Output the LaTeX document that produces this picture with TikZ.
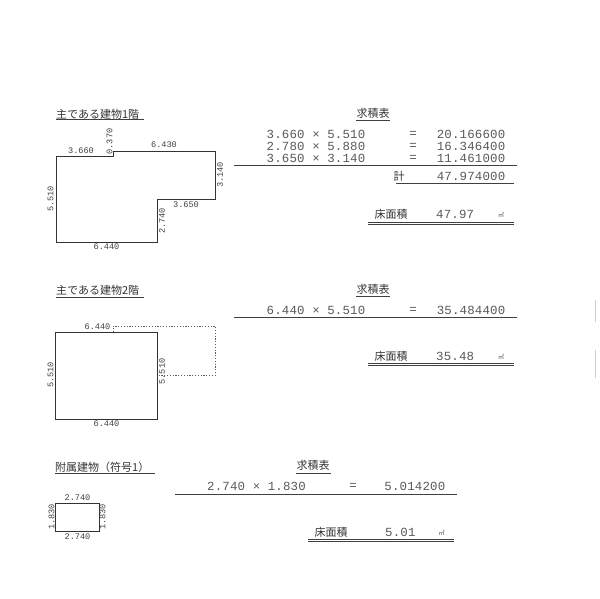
\documentclass[tikz,border=0pt]{standalone}
\usepackage{fontspec}
\usetikzlibrary{positioning}
\newfontfamily\cjkfont{Noto Sans CJK JP}
\newfontfamily\calcfont[LetterSpace=1.5]{Liberation Mono}
\newfontfamily\dimfont{Liberation Mono}
\tikzset{
  title/.style={inner sep=0pt,anchor=west,text=black!80,font=\cjkfont\fontsize{11}{11}\selectfont},
  head/.style={inner sep=0pt,text=black!80,font=\cjkfont\fontsize{11}{11}\selectfont},
  calc/.style={inner sep=0pt,text=black!65,font=\calcfont\fontsize{12.4}{12.4}\selectfont},
  dim/.style={inner sep=0pt,text=black!75,font=\dimfont\fontsize{8.6}{8.6}\selectfont},
  unit/.style={inner sep=0pt,text=black!70,font=\cjkfont\fontsize{6}{6}\selectfont},
  wall/.style={draw=black!80,line width=0.8pt},
  extent/.style={draw=black!65,line width=0.9pt,dash pattern=on 1.2pt off 1.6pt},
  rule/.style={draw=black!75,line width=0.7pt},
  speck/.style={draw=black!18,line width=0.8pt}
}
\begin{document}
\begin{tikzpicture}[x=1pt,y=-1pt]
  \useasboundingbox (0,0) rectangle (600,599);

  % first floor
  \node[title] (t1) at (56,114) {主である建物1階};
  \draw[rule] (56,119.5) -- (144,119.5);
  \draw[wall] (56,156) -- (113,156) -- (113,151) -- (215,151) -- (215,199)
    -- (157,199) -- (157,242) -- (56,242) -- cycle;
  \node[dim] (d11) at (81,151) {3.660};
  \node[dim,rotate=90] (d12) at (109.5,141.5) {0.370};
  \node[dim] (d13) at (164,145) {6.430};
  \node[dim,rotate=90] (d14) at (220,175) {3.140};
  \node[dim] (d15) at (186,205) {3.650};
  \node[dim,rotate=90] (d16) at (162,221) {2.740};
  \node[dim] (d17) at (106.5,247) {6.440};
  \node[dim,rotate=90] (d18) at (50.5,199) {5.510};

  \node[head] (h1) at (373,113) {求積表};
  \draw[rule] (356,120) -- (390,120);
  \node[calc,anchor=west] (r11) at (266.5,134.5) {3.660 × 5.510};
  \node[calc] (e11) at (413,134.5) {=};
  \node[calc,anchor=east] (v11) at (505.5,134.5) {20.166600};
  \node[calc,anchor=west] (r12) at (266.5,146) {2.780 × 5.880};
  \node[calc] (e12) at (413,146) {=};
  \node[calc,anchor=east] (v12) at (505.5,146) {16.346400};
  \node[calc,anchor=west] (r13) at (266.5,158) {3.650 × 3.140};
  \node[calc] (e13) at (413,158) {=};
  \node[calc,anchor=east] (v13) at (505.5,158) {11.461000};
  \draw[rule] (234,165.5) -- (517,165.5);
  \node[head] (s1) at (399,176) {計};
  \node[calc,anchor=east] (v14) at (505.5,176) {47.974000};
  \draw[rule] (396,183.5) -- (514,183.5);
  \node[head] (a1) at (391,214) {床面積};
  \node[calc,anchor=west] (v15) at (436,214) {47.97};
  \node[unit] (u1) at (501,214.5) {㎡};
  \draw[rule] (368,222) -- (514,222);
  \draw[rule] (368,224) -- (514,224);

  % second floor
  \node[title] (t2) at (56,290.5) {主である建物2階};
  \draw[rule] (56,297) -- (144,297);
  \draw[extent] (113,332) -- (113,326) -- (215,326) -- (215,375.5) -- (157,375.5);
  \draw[wall] (55.5,332) rectangle (157,419);
  \node[dim] (d21) at (97.5,326.5) {6.440};
  \node[dim,rotate=90] (d22) at (162,371.5) {5.510};
  \node[dim] (d23) at (106.5,424) {6.440};
  \node[dim,rotate=90] (d24) at (50.5,375) {5.510};

  \node[head] (h2) at (373,289) {求積表};
  \draw[rule] (356,296) -- (390,296);
  \node[calc,anchor=west] (r21) at (266.5,310) {6.440 × 5.510};
  \node[calc] (e21) at (413,310) {=};
  \node[calc,anchor=east] (v21) at (505.5,310) {35.484400};
  \draw[rule] (234,317.5) -- (517,317.5);
  \node[head] (a2) at (391,356) {床面積};
  \node[calc,anchor=west] (v22) at (436,356) {35.48};
  \node[unit] (u2) at (501,356.5) {㎡};
  \draw[rule] (368,363.5) -- (514,363.5);
  \draw[rule] (368,365.5) -- (514,365.5);

  % annex
  \node[title] (t3) at (55,467) {附属建物（符号1）};
  \draw[rule] (55,473.5) -- (155,473.5);
  \draw[wall] (55.5,503) rectangle (99,531);
  \node[dim] (d31) at (77.5,498) {2.740};
  \node[dim,rotate=90] (d32) at (102.5,517) {1.830};
  \node[dim] (d33) at (77.5,537) {2.740};
  \node[dim,rotate=90] (d34) at (51.5,517) {1.830};

  \node[head] (h3) at (313,465.5) {求積表};
  \draw[rule] (296,473) -- (331,473);
  \node[calc,anchor=west] (r31) at (207,486.5) {2.740 × 1.830};
  \node[calc] (e31) at (353,486.5) {=};
  \node[calc,anchor=east] (v31) at (445.5,486.5) {5.014200};
  \draw[rule] (175,494.5) -- (457,494.5);
  \node[head] (a3) at (331,532) {床面積};
  \node[calc,anchor=west] (v32) at (385,532) {5.01};
  \node[unit] (u3) at (441.5,532.5) {㎡};
  \draw[rule] (308,539.5) -- (454,539.5);
  \draw[rule] (308,541.5) -- (454,541.5);

  % scan marks at the right edge
  \draw[speck] (595.5,300) -- (595.5,322);
  \draw[speck] (595.5,350) -- (595.5,378);
\end{tikzpicture}
\end{document}
